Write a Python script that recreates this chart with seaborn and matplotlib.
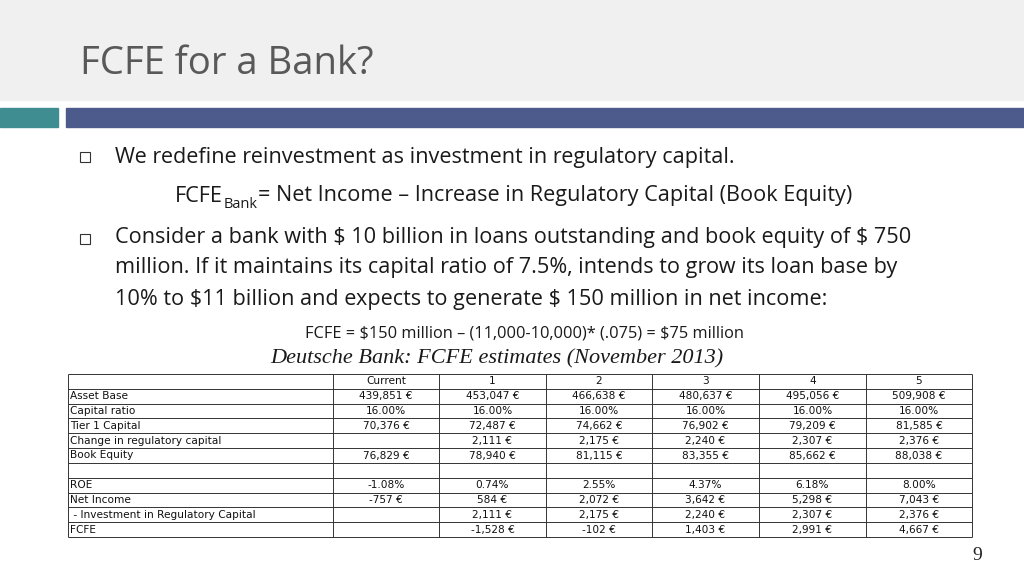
import matplotlib
matplotlib.use("Agg")
import matplotlib.pyplot as plt
import seaborn as sns
from matplotlib.patches import Rectangle

sns.set_style("white")

header = ["", "Current", "1", "2", "3", "4", "5"]
row_labels = ["Asset Base", "Capital ratio", "Tier 1 Capital", "Change in regulatory capital",
              "Book Equity", "", "ROE", "Net Income", " - Investment in Regulatory Capital", "FCFE"]
current = ["439,851 €", "16.00%", "70,376 €", "", "76,829 €", "", "-1.08%", "-757 €", "", ""]
year1 = ["453,047 €", "16.00%", "72,487 €", "2,111 €", "78,940 €", "", "0.74%", "584 €", "2,111 €", "-1,528 €"]
year2 = ["466,638 €", "16.00%", "74,662 €", "2,175 €", "81,115 €", "", "2.55%", "2,072 €", "2,175 €", "-102 €"]
year3 = ["480,637 €", "16.00%", "76,902 €", "2,240 €", "83,355 €", "", "4.37%", "3,642 €", "2,240 €", "1,403 €"]
year4 = ["495,056 €", "16.00%", "79,209 €", "2,307 €", "85,662 €", "", "6.18%", "5,298 €", "2,307 €", "2,991 €"]
year5 = ["509,908 €", "16.00%", "81,585 €", "2,376 €", "88,038 €", "", "8.00%", "7,043 €", "2,376 €", "4,667 €"]

fig = plt.figure(figsize=(10.24, 5.76), dpi=100)
ax = fig.add_axes([0, 0, 1, 1])
ax.set_xlim(0, 1024)
ax.set_ylim(576, 0)
ax.axis("off")

ax.add_patch(Rectangle((0, 0), 1024, 100, color="#f0f0f0", zorder=0))
ax.add_patch(Rectangle((0, 108), 58, 19, color="#3f8d91", zorder=1))
ax.add_patch(Rectangle((66, 108), 958, 19, color="#4d5a8c", zorder=1))

ax.text(80, 64, "FCFE for a Bank?", fontsize=27.5, family="Open Sans", color="#595959",
        va="center", parse_math=False)

body = dict(fontsize=15.6, family="Open Sans", color="#1a1a1a", va="center", parse_math=False)
for y in (157, 239):
    ax.add_patch(Rectangle((80, y - 5), 10, 10, fill=False, ec="#333333", lw=0.8))
ax.text(115, 157, "We redefine reinvestment as investment in regulatory capital.", **body)
ax.text(175, 196, "FCFE", **body)
ax.text(224, 205, "Bank", fontsize=10.5, family="Open Sans", color="#1a1a1a", va="center")
ax.text(258, 196, "= Net Income – Increase in Regulatory Capital (Book Equity)", **body)
ax.text(115, 238, "Consider a bank with $ 10 billion in loans outstanding and book equity of $ 750", **body)
ax.text(115, 268, "million. If it maintains its capital ratio of 7.5%, intends to grow its loan base by", **body)
ax.text(115, 299, "10% to $11 billion and expects to generate $ 150 million in net income:", **body)
ax.text(305, 334, "FCFE = $150 million – (11,000-10,000)* (.075) = $75 million", fontsize=11.8,
        family="Open Sans", color="#1a1a1a", va="center", parse_math=False)
ax.text(497, 359, "Deutsche Bank: FCFE estimates (November 2013)", fontsize=16, family="Liberation Serif",
        style="italic", color="#1a1a1a", ha="center", va="center", parse_math=False)

xs = [68, 333, 439, 546, 652, 759, 866, 972]
top, bottom = 374, 537
n = 11
h = (bottom - top) / n
for i in range(n + 1):
    ax.hlines(top + i * h, xs[0], xs[-1], color="#333333", lw=0.7)
for x in xs:
    ax.vlines(x, top, bottom, color="#333333", lw=0.7)

cols = [current, year1, year2, year3, year4, year5]
tf = dict(fontsize=7.6, family="DejaVu Sans", color="#111111", va="center", parse_math=False)
for j, lab in enumerate(header[1:]):
    ax.text((xs[j + 1] + xs[j + 2]) / 2, top + h / 2, lab, ha="center", **tf)
for i, lab in enumerate(row_labels):
    yc = top + (i + 1.5) * h
    ax.text(xs[0] + 2, yc, lab, ha="left", **tf)
    for j, col in enumerate(cols):
        ax.text((xs[j + 1] + xs[j + 2]) / 2, yc, col[i], ha="center", **tf)

ax.text(977, 556, "9", fontsize=14, family="Liberation Serif", color="#222222", ha="center", va="center")

fig.savefig("out.png", dpi=100)
